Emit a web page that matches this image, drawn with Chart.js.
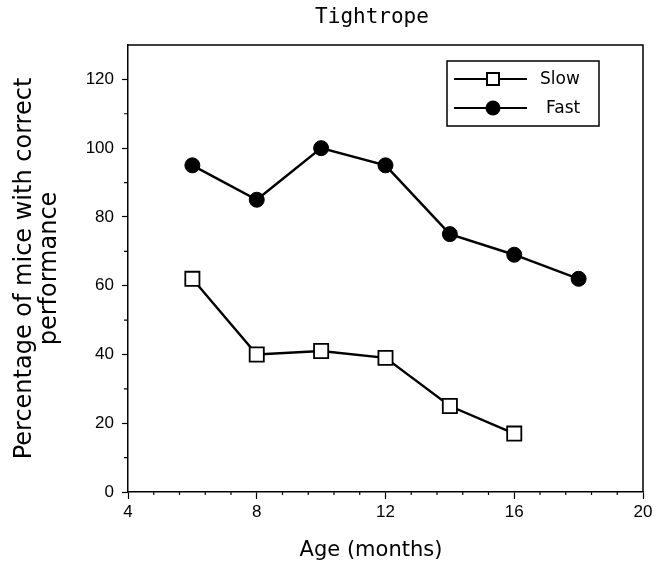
<!DOCTYPE html>
<html>
<head>
<meta charset="utf-8">
<script src="https://cdn.jsdelivr.net/npm/chart.js@4/dist/chart.umd.min.js"></script>
<style>
  html, body { margin: 0; padding: 0; background: #fff; }
</style>
</head>
<body>
<canvas id="mychart-line" width="666" height="572"></canvas>
<script>
// データ
const chartTitle = 'Tightrope';
const ages = [6, 8, 10, 12, 14, 16, 18];
const slowValues = [62, 40, 41, 39, 25, 17];
const fastValues = [95, 85, 100, 95, 75, 69, 62];
const seriesNames = ['Slow', 'Fast'];
const xTickLabels = [4, 8, 12, 16, 20];
const yTickLabels = [0, 20, 40, 60, 80, 100, 120];
const xTitle = 'Age (months)';
const yTitle = ['Percentage of mice with correct', 'performance'];

const ctx = document.getElementById('mychart-line');

// 値を{x, y}の形に変換
function toPoints(values) {
    return values.map((v, i) => ({ x: ages[i], y: v }));
}

// 枠線・小目盛り・タイトル・凡例を描く
const decorations = {
    id: 'decorations',
    afterDraw(chart) {
        const c = chart.ctx;
        const area = chart.chartArea;
        const xs = chart.scales.x;
        const ys = chart.scales.y;
        c.save();
        c.strokeStyle = '#000';
        c.lineWidth = 1.5;
        // 上と右の枠
        c.beginPath();
        c.moveTo(area.left, area.top);
        c.lineTo(area.right, area.top);
        c.lineTo(area.right, area.bottom);
        c.stroke();

        // 小目盛り
        c.lineWidth = 1.2;
        c.beginPath();
        for (let i = 0; i < 20; i++) {
            const v = xs.min + i * 0.8;
            if (i % 5 === 0) continue;
            const px = xs.getPixelForValue(v);
            c.moveTo(px, area.bottom);
            c.lineTo(px, area.bottom + 3);
        }
        for (let v = 10; v < ys.max; v += 20) {
            const py = ys.getPixelForValue(v);
            c.moveTo(area.left, py);
            c.lineTo(area.left - 4, py);
        }
        c.stroke();

        // タイトル
        c.fillStyle = '#000';
        c.font = '21px "DejaVu Sans Mono"';
        c.textAlign = 'center';
        c.textBaseline = 'middle';
        c.fillText(chartTitle, 372, 18);

        // x軸タイトル
        c.font = '21px "DejaVu Sans"';
        c.fillText(xTitle, 371, 551);

        // 凡例
        const lx = 447, ly = 61, lw = 152, lh = 65;
        c.lineWidth = 1.5;
        c.strokeRect(lx, ly, lw, lh);
        c.font = '17px "DejaVu Sans"';
        c.textAlign = 'left';
        chart.data.datasets.forEach((ds, i) => {
            const y = ly + 18 + i * 29;
            c.lineWidth = 2;
            c.strokeStyle = '#000';
            c.beginPath();
            c.moveTo(lx + 7, y);
            c.lineTo(lx + 80, y);
            c.stroke();
            if (ds.pointStyle === 'rect') {
                c.fillStyle = '#fff';
                c.fillRect(lx + 40, y - 6, 12, 12);
                c.strokeRect(lx + 40, y - 6, 12, 12);
            } else {
                c.fillStyle = '#000';
                c.beginPath();
                c.arc(lx + 46, y, 7.5, 0, Math.PI * 2);
                c.fill();
            }
            c.fillStyle = '#000';
            c.fillText(ds.label, lx + 93 + i * 6, y + 1);
        });
        c.restore();
    }
};

let myChart = new Chart(ctx, {
    type: 'line',
    data: {
        datasets: [{
            label: seriesNames[0],
            data: toPoints(slowValues),
            borderColor: '#000',
            borderWidth: 2.4,
            pointStyle: 'rect',
            pointRadius: 10,
            pointBorderWidth: 1.8,
            pointBackgroundColor: '#fff',
            pointBorderColor: '#000',
            tension: 0,
        }, {
            label: seriesNames[1],
            data: toPoints(fastValues),
            borderColor: '#000',
            borderWidth: 2.4,
            pointStyle: 'circle',
            pointRadius: 7.5,
            pointBorderWidth: 1,
            pointBackgroundColor: '#000',
            pointBorderColor: '#000',
            tension: 0,
        }],
    },
    options: {
        responsive: false,
        animation: false,
        layout: { padding: { top: 45, right: 23, left: 0, bottom: 0 } },
        plugins: {
            legend: { display: false },
            tooltip: { enabled: false },
        },
        scales: {
            x: {
                type: 'linear',
                min: 4,
                max: 20,
                afterBuildTicks: (scale) => {
                    scale.ticks = xTickLabels.map(v => ({ value: v }));
                },
                afterFit: (scale) => { scale.height = 80; },
                ticks: {
                    color: '#000',
                    font: { family: '"Liberation Sans"', size: 17 },
                    padding: 3,
                    maxRotation: 0,
                },
                grid: {
                    drawOnChartArea: false,
                    tickLength: 7,
                    tickWidth: 1.2,
                    tickColor: '#000',
                },
                border: { color: '#000', width: 1.5 },
            },
            y: {
                min: 0,
                max: 130,
                afterBuildTicks: (scale) => {
                    scale.ticks = yTickLabels.map(v => ({ value: v }));
                },
                afterFit: (scale) => { scale.width = 128; },
                ticks: {
                    color: '#000',
                    font: { family: '"Liberation Sans"', size: 17 },
                    padding: 8,
                },
                grid: {
                    drawOnChartArea: false,
                    tickLength: 6,
                    tickWidth: 1.2,
                    tickColor: '#000',
                },
                border: { color: '#000', width: 1.5 },
                title: {
                    display: true,
                    text: yTitle,
                    color: '#000',
                    font: { family: '"DejaVu Sans"', size: 24, lineHeight: 1.05 },
                    padding: { top: 12, bottom: 0 },
                },
            },
        },
    },
    plugins: [decorations],
});
</script>
</body>
</html>
